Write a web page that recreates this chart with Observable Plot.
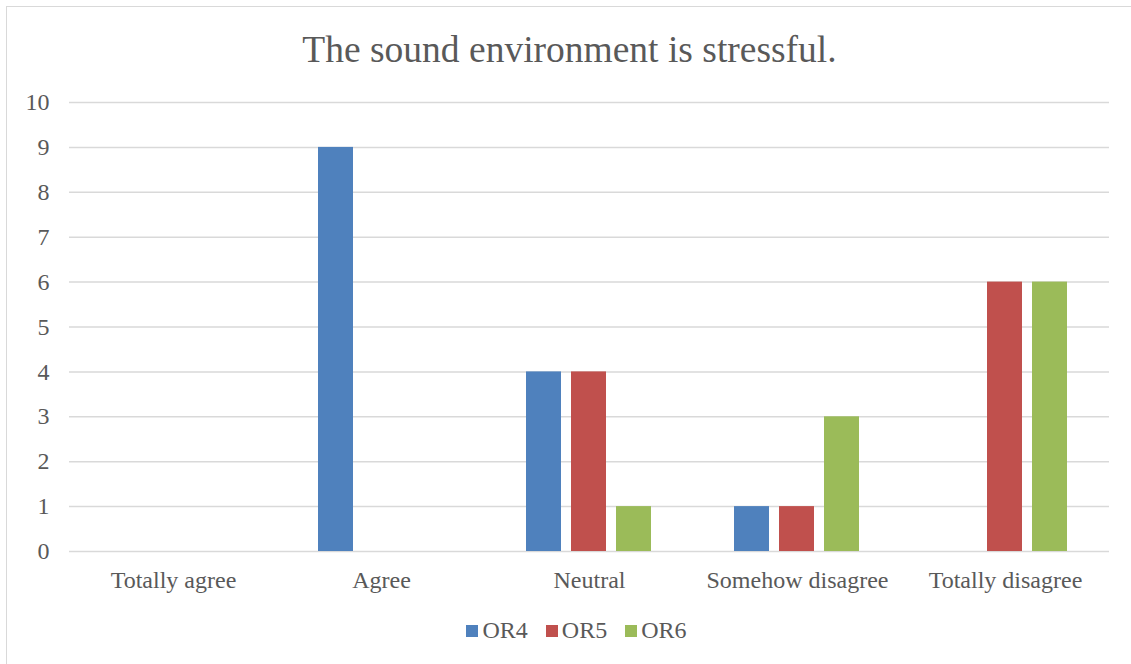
<!DOCTYPE html>
<html>
<head>
<meta charset="utf-8">
<script src="https://cdn.jsdelivr.net/npm/d3@7"></script>
<script src="https://cdn.jsdelivr.net/npm/@observablehq/plot@0.6"></script>
<style>
  html, body { margin: 0; padding: 0; background: #fff; }
  body { width: 1131px; height: 664px; overflow: hidden; position: relative;
         font-family: "Liberation Serif", "Times New Roman", serif; color: #595959; }
  #frame { position: absolute; left: 6px; top: 6px; width: 1200px; height: 800px;
           border: 1.5px solid #d9d9d9; box-sizing: border-box; pointer-events: none; }
  #title { height: 82px; position: relative; }
  #title span { position: absolute; left: 0; right: 0; top: 31px; text-align: center;
                font-size: 37.5px; line-height: 37px; padding-left: 8px; }
  #legend { display: flex; justify-content: center; align-items: center; gap: 18px;
            font-size: 24px; margin-top: 15px; padding-left: 22px; }
  #legend .item { display: flex; align-items: center; gap: 4px; }
  #legend .sw { width: 12px; height: 12px; display: inline-block; }
</style>
</head>
<body>
<div id="frame"></div>
<div id="title"><span>The sound environment is stressful.</span></div>
<div id="chart"></div>
<div id="legend"></div>
<script>
// Response categories along the bottom
const categories = ["Totally agree", "Agree", "Neutral", "Somehow disagree", "Totally disagree"];
// Series (rooms) and their colours
const series = ["OR4", "OR5", "OR6"];
const colors = ["#4F81BD", "#C0504D", "#9BBB59"];
// Number of answers per category, one array per series
const or4 = [0, 9, 4, 1, 0];
const or5 = [0, 0, 4, 1, 6];
const or6 = [0, 0, 1, 3, 6];
// Y axis ticks
const yTicks = [0, 1, 2, 3, 4, 5, 6, 7, 8, 9, 10];

const values = [or4, or5, or6];
const rows = [];
categories.forEach((c, i) => {
  series.forEach((s, j) => rows.push({category: c, series: s, value: values[j][i]}));
});

const textColor = "#595959";
const chart = Plot.plot({
  width: 1131,
  height: 520,
  marginTop: 20,
  marginBottom: 51,
  marginLeft: 67,
  marginRight: 20,
  style: {fontFamily: '"Liberation Serif", "Times New Roman", serif', fontSize: "24px", color: textColor, background: "transparent"},
  fx: {domain: categories, padding: 0, label: null, tickSize: 0, tickPadding: 19},
  x: {domain: series, paddingInner: 10 / 46, paddingOuter: 0.875, axis: null},
  y: {domain: [0, 10], ticks: yTicks, label: null, tickSize: 0, tickPadding: 20, tickFormat: d3.format("d")},
  color: {domain: series, range: colors},
  marks: [
    Plot.ruleY(yTicks, {stroke: "#d9d9d9", strokeWidth: 1.5}),
    Plot.barY(rows, {fx: "category", x: "series", y: "value", fill: "series"})
  ]
});
chart.querySelectorAll("text").forEach(t => t.setAttribute("fill", textColor));
document.getElementById("chart").appendChild(chart);

const legend = document.getElementById("legend");
series.forEach((s, j) => {
  const item = document.createElement("span");
  item.className = "item";
  const sw = document.createElement("span");
  sw.className = "sw";
  sw.style.background = colors[j];
  const label = document.createElement("span");
  label.textContent = s;
  item.appendChild(sw);
  item.appendChild(label);
  legend.appendChild(item);
});
</script>
</body>
</html>
